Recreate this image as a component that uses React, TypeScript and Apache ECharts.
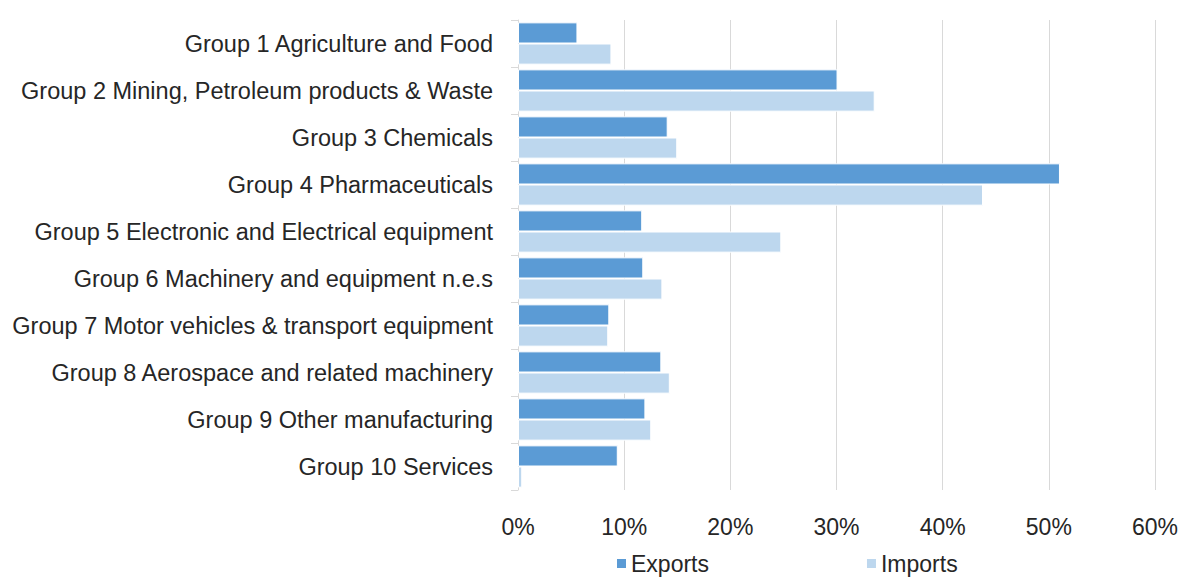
import React, { useEffect, useRef } from "react";
import * as echarts from "echarts";

const categories = [
  "Group 1 Agriculture and Food",
  "Group 2 Mining, Petroleum products & Waste",
  "Group 3 Chemicals",
  "Group 4 Pharmaceuticals",
  "Group 5 Electronic and Electrical equipment",
  "Group 6 Machinery and equipment n.e.s",
  "Group 7 Motor vehicles & transport equipment",
  "Group 8 Aerospace and related machinery",
  "Group 9 Other manufacturing",
  "Group 10 Services",
];
const exportsData = [5.6, 30.1, 14.1, 51.05, 11.7, 11.8, 8.6, 13.5, 12.0, 9.4];
const importsData = [8.8, 33.6, 15.0, 43.8, 24.8, 13.6, 8.5, 14.3, 12.55, 0.4];
const seriesNames = ["Exports", "Imports"];

export default function App() {
  const ref = useRef<HTMLDivElement>(null);
  useEffect(() => {
    if (!ref.current) return;
    const chart = echarts.init(ref.current, null, { renderer: "svg" });
    const font = "'Liberation Sans', Arial, sans-serif";
    chart.setOption({
      animation: false,
      textStyle: { fontFamily: font },
      grid: { left: 518, right: 24, top: 20, bottom: 87, containLabel: false },
      legend: {
        top: 547,
        left: 610,
        padding: 5,
        itemGap: 156,
        itemWidth: 11,
        itemHeight: 11,
        icon: "rect",
        textStyle: { fontSize: 23, color: "#262626", fontFamily: font, padding: [0, 0, 0, -1] },
        data: seriesNames,
      },
      xAxis: {
        type: "value",
        min: 0,
        max: 60,
        interval: 10,
        axisLine: { show: false },
        axisTick: { show: false },
        splitLine: { lineStyle: { color: "#D9D9D9", width: 1 } },
        axisLabel: {
          formatter: "{value}%",
          fontSize: 23,
          color: "#262626",
          margin: 25,
          fontFamily: font,
        },
      },
      yAxis: {
        type: "category",
        inverse: true,
        data: categories,
        axisLine: { show: true, lineStyle: { color: "#D9D9D9", width: 1 } },
        axisTick: { show: true, length: 7, lineStyle: { color: "#D9D9D9" } },
        axisLabel: { fontSize: 23.5, color: "#262626", margin: 25, fontFamily: font },
      },
      series: [
        {
          name: seriesNames[0],
          type: "bar",
          data: exportsData,
          barGap: "0%",
          barCategoryGap: "10%",
          itemStyle: { color: "#5B9BD5", borderColor: "#ffffff", borderWidth: 1 },
        },
        {
          name: seriesNames[1],
          type: "bar",
          data: importsData,
          barGap: "0%",
          barCategoryGap: "10%",
          itemStyle: { color: "#BDD7EE", borderColor: "#ffffff", borderWidth: 1 },
        },
      ],
    });
    return () => chart.dispose();
  }, []);
  return <div ref={ref} style={{ width: 1181, height: 577, position: "absolute", left: 0, top: 0 }} />;
}
